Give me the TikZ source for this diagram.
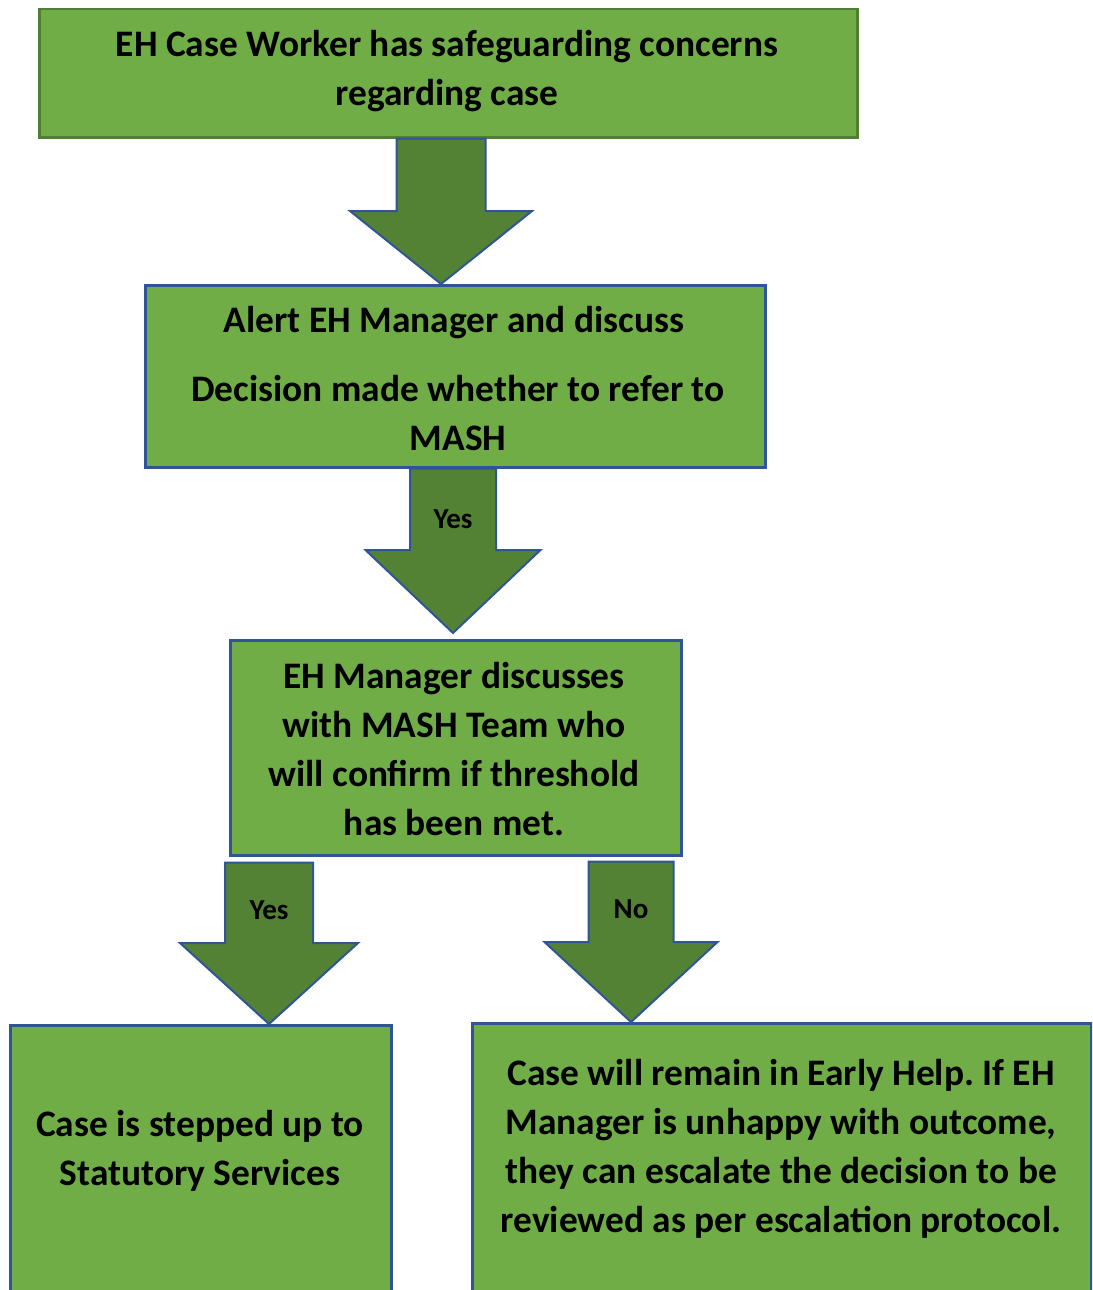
\documentclass[tikz,border=0pt]{standalone}
\usepackage{fontspec}
\setmainfont{Carlito}
\frenchspacing
\usetikzlibrary{calc}
\definecolor{boxgreen}{HTML}{70AD47}
\definecolor{arrgreen}{HTML}{548235}
\definecolor{edgeblue}{HTML}{2F5597}
\definecolor{edgegreen}{HTML}{507E32}
\tikzset{
  box/.style={draw=edgeblue, line width=2.5pt, fill=boxgreen, rectangle, inner sep=0pt, anchor=north west},
  txt/.style={align=center, inner sep=0pt, font=\fontsize{37.4}{49}\selectfont\bfseries},
  lbl/.style={inner sep=0pt, font=\fontsize{29}{32}\selectfont\bfseries},
  barr/.style={draw=edgeblue, line width=2pt, fill=arrgreen, line join=miter},
}
% #1 top point, #2 tip point, #3 shaft half width, #4 head half width, #5 head length
\newcommand{\blockarrow}[5]{%
  \draw[barr] ($(#1)+(-#3,0)$) -- ($(#2)+(-#3,-#5)$) -- ($(#2)+(-#4,-#5)$) -- (#2)
    -- ($(#2)+(#4,-#5)$) -- ($(#2)+(#3,-#5)$) -- ($(#1)+(#3,0)$) -- cycle;}
\begin{document}
\begin{tikzpicture}[x=1pt,y=-1pt]
\useasboundingbox (0,0) rectangle (1092,1290);
\clip (0,0) rectangle (1092,1290);
\fill[white] (0,0) rectangle (1092,1290);
% boxes
\node[box, draw=edgegreen, minimum width=818pt, minimum height=128pt] (b1) at (38,8) {};
\node[box, minimum width=620pt, minimum height=182pt] (b2) at (144,284) {};
\node[box, minimum width=451pt, minimum height=215pt] (b3) at (229,639) {};
\node[box, minimum width=381pt, minimum height=300pt] (b4) at (9,1024) {};
\node[box, minimum width=619pt, minimum height=300pt] (b5) at (471,1022) {};
% texts
\node[txt] (t1) at (447,71) {EH Case Worker has safeguarding concerns\\regarding case};
\node[txt] (t2a) at (454,323) {Alert EH Manager and discuss};
\node[txt] (t2b) at (458,413) {Decision made whether to refer to\\MASH};
\node[txt] (t3) at (454,749) {EH Manager discusses\\with MASH Team who\\will confirm if threshold\\has been met.};
\node[txt] (t4) at (200,1151) {Case is stepped up to\\Statutory Services};
\node[txt] (t5) at (781,1149) {Case will remain in Early Help. If EH\\Manager is unhappy with outcome,\\they can escalate the decision to be\\reviewed as per escalation protocol.};
% arrows
\path (b1.south -| 441,0) coordinate (a1s);
\path (b2.north -| 441,0) coordinate (a1e);
\blockarrow{a1s}{a1e}{44.5}{91}{73}
\path (b2.south -| 453,0) coordinate (a2s);
\path (b3.north -| 453,0) ++(0,-6) coordinate (a2e);
\blockarrow{a2s}{a2e}{43}{87.5}{83}
\path (b3.south -| 269,0) ++(0,6) coordinate (a3s);
\path (b4.north -| 269,0) coordinate (a3e);
\blockarrow{a3s}{a3e}{44}{89}{81}
\path (b3.south -| 631,0) ++(0,5) coordinate (a4s);
\path (b5.north -| 631,0) coordinate (a4e);
\blockarrow{a4s}{a4e}{42.5}{86.5}{80}
% labels
\node[lbl] (l2) at (453,519) {Yes};
\node[lbl] (l3) at (269,910) {Yes};
\node[lbl] (l4) at (631,909) {No};
\end{tikzpicture}
\end{document}
